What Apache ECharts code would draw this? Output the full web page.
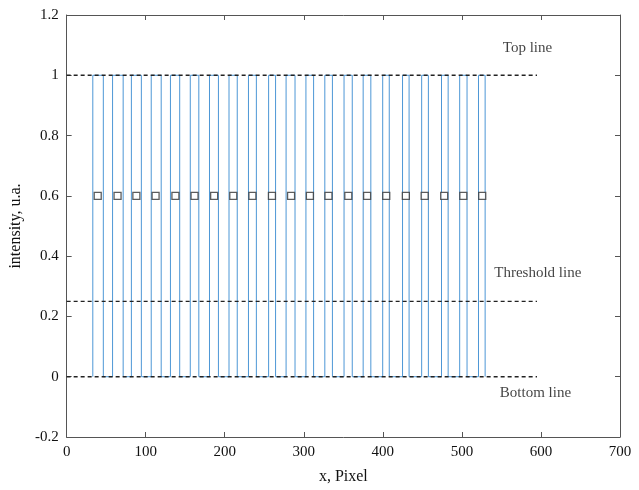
<!DOCTYPE html>
<html>
<head>
<meta charset="utf-8">
<script src="https://cdn.jsdelivr.net/npm/echarts@6/dist/echarts.min.js"></script>
<style>html,body{margin:0;padding:0;background:#fff}#c{width:639px;height:490px}</style>
</head>
<body>
<div id="c"></div>
<script>
// Pulse rising / falling edges (x, pixel units)
const pulseStart = [33.1, 58.1, 81.9, 107.0, 131.3, 156.4, 180.7, 205.4, 230.0, 255.5, 277.6, 302.7, 326.6, 350.9, 375.1, 399.8, 424.9, 449.1, 474.2, 497.2, 521.0];
const pulseEnd   = [46.4, 71.5, 94.5, 119.6, 143.0, 167.2, 192.0, 215.8, 240.0, 264.3, 288.9, 312.4, 336.2, 361.3, 384.8, 408.1, 433.2, 457.6, 482.6, 506.5, 529.4];
const lowLevel = 0;
const highLevel = 1;
// Square markers (pulse centres)
const markerX = [39.3, 64.4, 88.2, 112.5, 137.6, 161.8, 186.6, 210.8, 235.0, 259.7, 283.9, 307.7, 331.2, 356.3, 380.1, 404.3, 429.1, 452.9, 477.6, 501.8, 525.7];
const markerY = 0.6;
// Reference dashed lines
const refLevels = [1, 0.25, 0];
const refXStart = 0;
const refXEnd = 595;
// Annotations
const noteText = ['Top line', 'Threshold line', 'Bottom line'];
const noteX = [583, 596, 593];
const noteY = [1.09, 0.345, -0.055];
// Axes
const xTicks = [0, 100, 200, 300, 400, 500, 600, 700];
const yTicks = [-0.2, 0, 0.2, 0.4, 0.6, 0.8, 1, 1.2];

const wave = [];
for (let i = 0; i < pulseStart.length; i++) {
  wave.push([pulseStart[i], lowLevel], [pulseStart[i], highLevel], [pulseEnd[i], highLevel], [pulseEnd[i], lowLevel]);
}
const font = 'Liberation Serif';
const axisCol = '#555';
const chart = echarts.init(document.getElementById('c'), null, {renderer: 'canvas'});
const baseX = {
  type: 'value', min: xTicks[0], max: xTicks[xTicks.length - 1], interval: 100,
  axisLine: {show: true, onZero: false, lineStyle: {color: axisCol, width: 1}},
  axisTick: {show: true, inside: true, length: 5, lineStyle: {color: axisCol}},
  splitLine: {show: false}
};
const baseY = {
  type: 'value', min: yTicks[0], max: yTicks[yTicks.length - 1], interval: 0.2,
  axisLine: {show: true, onZero: false, lineStyle: {color: axisCol, width: 1}},
  axisTick: {show: true, inside: true, length: 5, lineStyle: {color: axisCol}},
  splitLine: {show: false}
};
const series = [];
series.push({
  type: 'line', data: wave, showSymbol: false, symbol: 'none', animation: false,
  lineStyle: {color: '#4d97d6', width: 1}, z: 2
});
refLevels.forEach(v => {
  series.push({
    type: 'line', data: [[refXStart, v], [refXEnd, v]], symbol: 'none', animation: false,
    lineStyle: {color: '#222', width: 1.4, type: [4, 3]}, z: 3
  });
});
series.push({
  type: 'scatter', data: markerX.map(x => [x, markerY]), symbol: 'rect', symbolSize: 7,
  itemStyle: {color: '#fff', borderColor: '#333', borderWidth: 1.3}, animation: false, z: 4
});
series.push({
  type: 'scatter', data: noteX.map((x, i) => ({value: [x, noteY[i]], name: noteText[i]})),
  symbolSize: 0, animation: false,
  label: {show: true, position: 'inside', formatter: p => p.name, fontFamily: font, fontSize: 15, color: '#111'}
});
chart.setOption({
  backgroundColor: '#fff',
  animation: false,
  grid: {left: 62, right: 19, top: 15, bottom: 45, containLabel: false},
  xAxis: [
    Object.assign({}, baseX, {
      position: 'bottom', name: 'x, Pixel', nameLocation: 'middle', nameGap: 32,
      nameTextStyle: {fontFamily: font, fontSize: 16, color: '#111'},
      axisLabel: {fontFamily: font, fontSize: 15, color: '#111', margin: 8}
    }),
    Object.assign({}, baseX, {position: 'top', axisLabel: {show: false}})
  ],
  yAxis: [
    Object.assign({}, baseY, {
      position: 'left', name: 'intensity, u.a.', nameLocation: 'middle', nameGap: 38,
      nameTextStyle: {fontFamily: font, fontSize: 16, color: '#111'},
      axisLabel: {fontFamily: font, fontSize: 15, color: '#111', margin: 8,
        formatter: v => String(Math.round(v * 10) / 10)}
    }),
    Object.assign({}, baseY, {position: 'right', axisLabel: {show: false}})
  ],
  series: series
});
</script>
</body>
</html>
